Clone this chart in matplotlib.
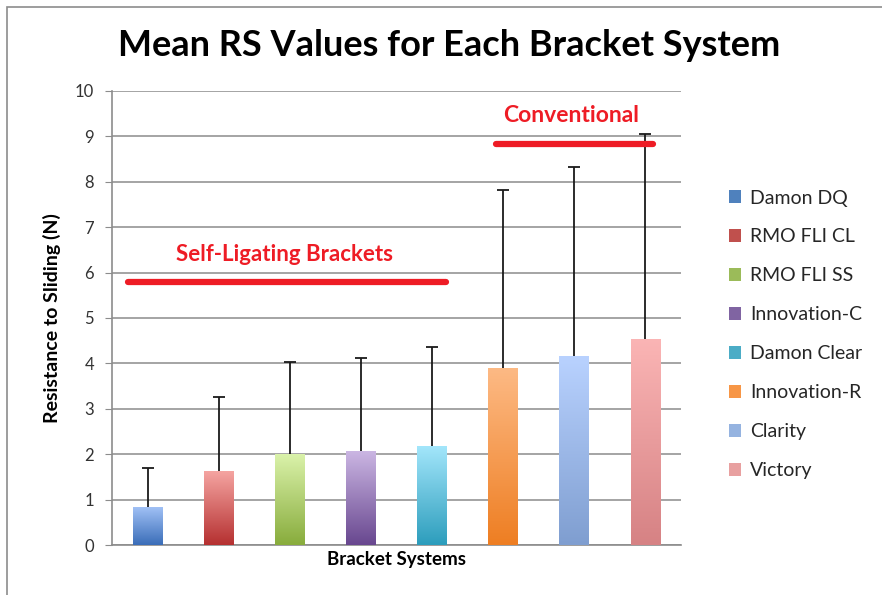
import matplotlib
matplotlib.use("Agg")
from matplotlib import pyplot as plt
from matplotlib.colors import LinearSegmentedColormap
from matplotlib.patches import Rectangle, Patch
import numpy as np

# data
systems = ['Damon DQ', 'RMO FLI CL', 'RMO FLI SS', 'Innovation-C',
           'Damon Clear', 'Innovation-R', 'Clarity', 'Victory']
means = [0.84, 1.63, 2.00, 2.07, 2.18, 3.90, 4.16, 4.54]
sds = [0.86, 1.63, 2.03, 2.05, 2.18, 3.92, 4.17, 4.51]

# gradient colours (top, bottom)
top_colors = ['#A3C3F7', '#F6A6A3', '#DAF2AA', '#CBB6E3',
              '#A3E6FB', '#FDBA85', '#B9D2FF', '#FBB5B5']
bottom_colors = ['#3A6DB8', '#B53030', '#88AC3C', '#68478F',
                 '#2C9DBC', '#EE7E22', '#7F9ED0', '#D68284']
legend_colors = ['#4F81BD', '#C0504D', '#9BBB59', '#8064A2',
                 '#4BACC6', '#F79646', '#95B3E0', '#E8A0A0']

plt.rcParams['font.family'] = ['Lato', 'DejaVu Sans']

fig = plt.figure(figsize=(8.82, 5.95), dpi=100)
# outer chart frame
fig.patches.append(Rectangle((7 / 882, -0.1), 1.2, 1.1 - 7 / 595,
                             transform=fig.transFigure, fill=False,
                             edgecolor='#8c8c8c', linewidth=1.2))
ax = fig.add_axes([112 / 882, 50 / 595, 569 / 882, 454 / 595])

x = np.arange(len(systems))
bars = ax.bar(x, means, width=0.42, color='none', zorder=3)
for i, patch in enumerate(bars.patches):
    cmap = LinearSegmentedColormap.from_list('g', [bottom_colors[i], top_colors[i]])
    grad = np.linspace(0, 1, 256).reshape(-1, 1)
    bx, by = patch.get_x(), patch.get_y()
    bw, bh = patch.get_width(), patch.get_height()
    im = ax.imshow(grad, cmap=cmap, origin='lower', aspect='auto',
                   extent=(bx, bx + bw, by, by + bh), zorder=3)
    im.set_clip_path(patch)

eb = ax.errorbar(x, means, yerr=[np.zeros(len(sds)), sds], fmt='none',
                 ecolor='#1a1a1a', elinewidth=1.3, capsize=4, capthick=1.3, zorder=4)
# only the upper cap is shown
eb[1][0].set_visible(False)

ax.set_xlim(-0.5, 7.5)
ax.set_ylim(0, 10)
ax.set_yticks(range(0, 11))
ax.yaxis.grid(True, color='#8c8c8c', linewidth=1.1)
ax.set_axisbelow(True)
ax.set_xticks([])
for s in ['top', 'right']:
    ax.spines[s].set_visible(False)
ax.spines['left'].set_color('#8c8c8c')
ax.spines['bottom'].set_color('#8c8c8c')
ax.spines['left'].set_linewidth(1.2)
ax.spines['bottom'].set_linewidth(1.2)
ax.tick_params(axis='y', length=5, color='#8c8c8c', labelsize=12,
               labelcolor='#333333', pad=8)

ax.set_ylabel('Resistance to Sliding (N)', fontsize=14, fontweight='bold', labelpad=10)
ax.set_xlabel('Bracket Systems', fontsize=13.5, fontweight='bold', labelpad=4)

fig.suptitle('Mean RS Values for Each Bracket System', x=449 / 882, y=1 - 45 / 595,
             va='center', fontsize=26, fontweight='bold')

# group annotations
ax.plot([-0.27, 4.2], [5.79, 5.79], color='#EE1C25', linewidth=4.5,
        solid_capstyle='round', zorder=5)
ax.text(1.93, 6.4, 'Self-Ligating Brackets', color='#EE1C25', fontsize=16,
        fontweight='bold', ha='center', va='center')
ax.plot([4.9, 7.1], [8.83, 8.83], color='#EE1C25', linewidth=4.5,
        solid_capstyle='round', zorder=5)
ax.text(5.95, 9.45, 'Conventional', color='#EE1C25', fontsize=16.5,
        fontweight='bold', ha='center', va='center')

handles = [Patch(facecolor=c, edgecolor='none') for c in legend_colors]
fig.legend(handles, systems, loc='upper left', bbox_to_anchor=(711 / 882, 1 - 172 / 595),
           frameon=False, fontsize=14, handlelength=0.65, handleheight=0.65,
           handletextpad=0.45, labelspacing=1.13, labelcolor='#262626')

fig.savefig('out.png', dpi=100)
